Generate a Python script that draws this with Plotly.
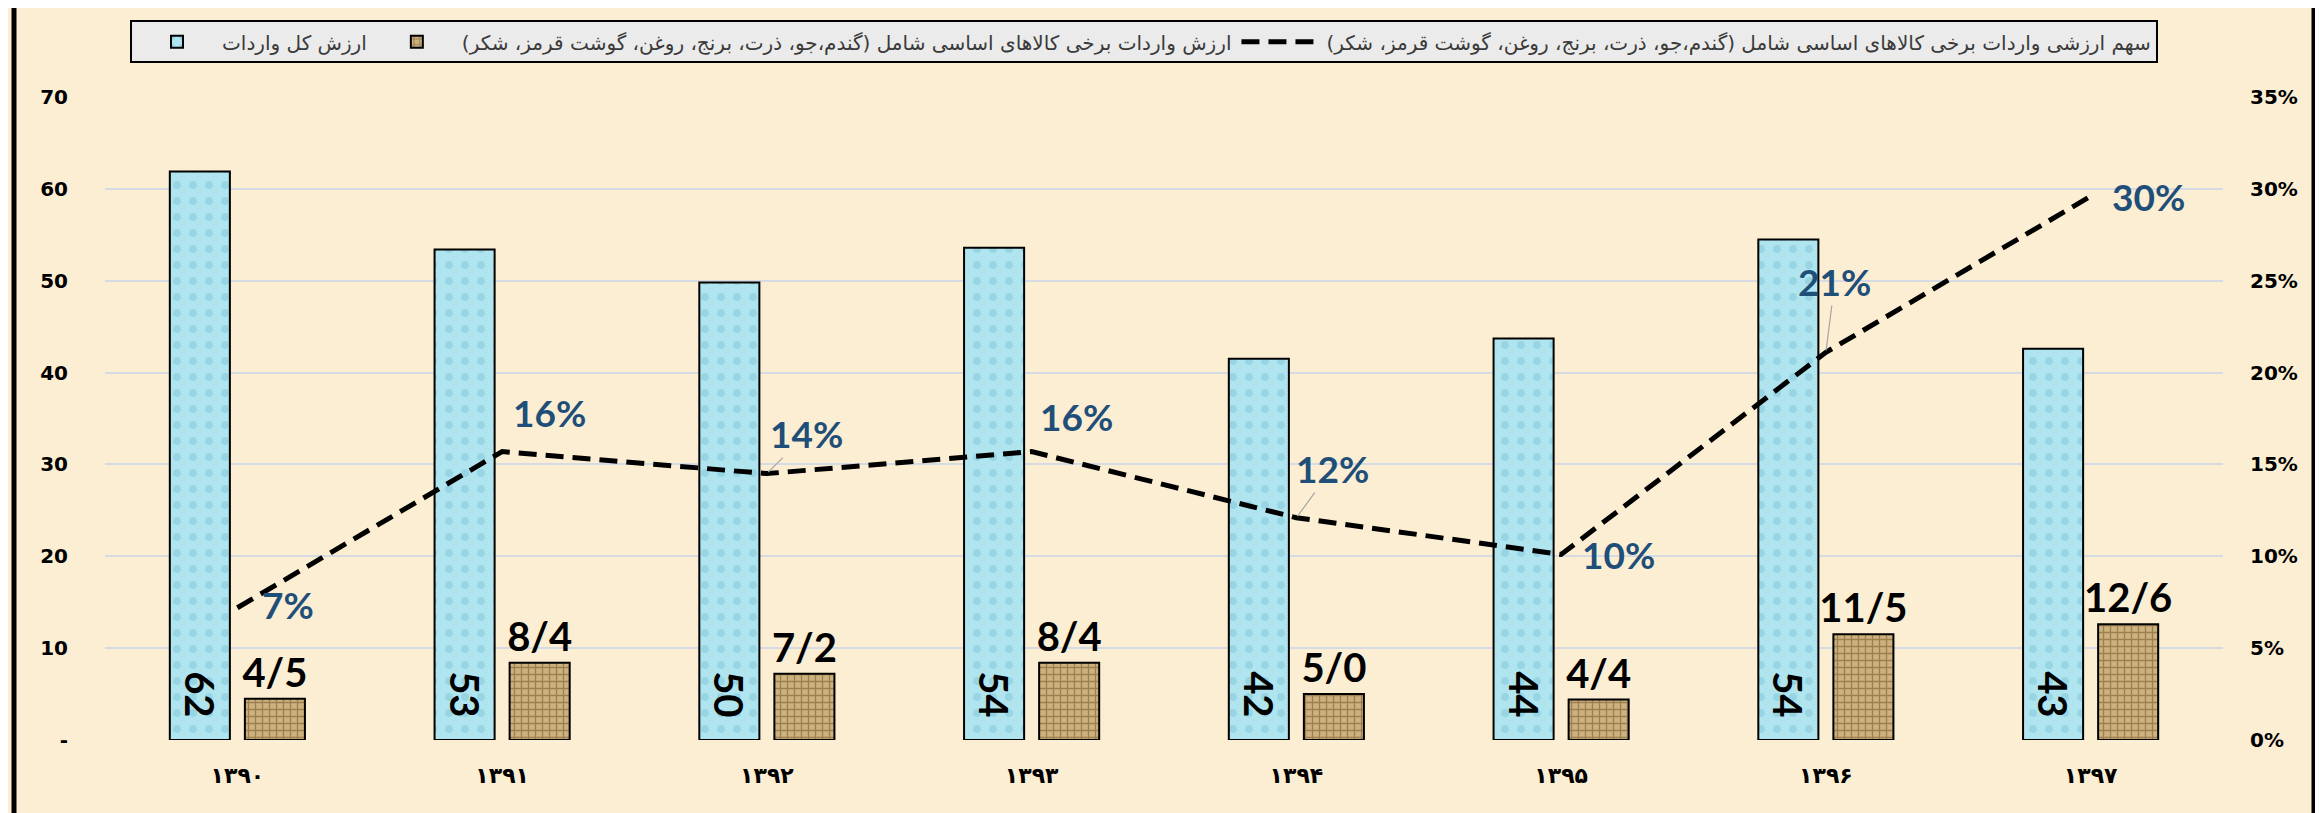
import plotly.graph_objects as go

# ---------------- data ----------------
years = ["۱۳۹۰", "۱۳۹۱", "۱۳۹۲", "۱۳۹۳", "۱۳۹۴", "۱۳۹۵", "۱۳۹۶", "۱۳۹۷"]
total_imports = [61.9, 53.4, 49.8, 53.6, 41.5, 43.7, 54.5, 42.6]
basic_goods_imports = [4.5, 8.4, 7.2, 8.4, 5.0, 4.4, 11.5, 12.6]
basic_goods_share = [0.072, 0.157, 0.145, 0.157, 0.121, 0.101, 0.211, 0.296]

left_tickvals = [0, 10, 20, 30, 40, 50, 60, 70]
left_ticktext = ["-", "10", "20", "30", "40", "50", "60", "70"]
right_tickvals = [0, 0.05, 0.10, 0.15, 0.20, 0.25, 0.30, 0.35]
right_ticktext = ["0%", "5%", "10%", "15%", "20%", "25%", "30%", "35%"]

name_total = "ارزش کل واردات"
name_basic = "ارزش واردات برخی کالاهای اساسی شامل (گندم،جو، ذرت، برنج، روغن، گوشت قرمز، شکر)"
name_share = "سهم ارزشی واردات برخی کالاهای اساسی شامل (گندم،جو، ذرت، برنج، روغن، گوشت قرمز، شکر)"

# label offsets (pixels) for the share labels, and whether a leader line is drawn
label_offsets = [(51, -3), (47, -39), (40, -40), (45, -35), (36, -49), (57, 0), (9, -71), (58, 0)]
label_leaders = [False, False, True, False, True, False, True, False]

# ---------------- layout geometry ----------------
W, H = 2323, 813
ML, MR, MT, MB = 97, 108, 86, 81
PW, PH = W - ML - MR, H - MT - MB


def px_x(p):
    return (p - ML) / PW


def px_y(p):
    return (H - MB - p) / PH


BG = "#FBEED3"
LABEL_BLUE = "#1F4E79"
NB = "\u00a0"

total_text = [f"{round(v)}{NB}{NB}" for v in total_imports]
basic_text = [f"{v:.1f}".replace(".", "/") for v in basic_goods_imports]

fig = go.Figure()

fig.add_trace(go.Bar(
    x=years, y=total_imports, name=name_total,
    marker=dict(
        color="#A8E1EE",
        line=dict(color="black", width=2),
        pattern=dict(shape=".", fgcolor="#80C5D8", bgcolor="#B0E5F0", size=16, solidity=0.2),
    ),
    text=total_text, textposition="inside", insidetextanchor="start",
    textangle=90, constraintext="none",
    insidetextfont=dict(family="Lato", size=40, color="black", weight="bold"),
    hoverinfo="skip",
))

fig.add_trace(go.Bar(
    x=years, y=basic_goods_imports, name=name_basic,
    marker=dict(
        color="#C4A46E",
        line=dict(color="black", width=2),
        pattern=dict(shape="+", fgcolor="#6B4E22", bgcolor="#CDB27F", size=7, solidity=0.35),
    ),
    text=basic_text, textposition="outside", constraintext="none",
    outsidetextfont=dict(family="Lato", size=40, color="black", weight="bold"),
    cliponaxis=False,
    hoverinfo="skip",
))

fig.add_trace(go.Scatter(
    x=years, y=basic_goods_share, name=name_share, yaxis="y2",
    mode="lines",
    line=dict(color="black", width=5, dash="18px,9px"),
    hoverinfo="skip",
))

annotations = []
for yr, s, (ax, ay), lead in zip(years, basic_goods_share, label_offsets, label_leaders):
    annotations.append(dict(
        x=yr, y=s, xref="x", yref="y2",
        text=f"{round(s * 100)}%",
        showarrow=True, ax=ax, ay=ay, arrowhead=0, arrowwidth=1.2,
        arrowcolor="#A6A6A6" if lead else "rgba(0,0,0,0)",
        standoff=2,
        font=dict(family="Lato", size=37, color=LABEL_BLUE, weight="bold"),
    ))

shapes = [
    # outer frame
    dict(type="line", xref="paper", yref="paper",
         x0=px_x(6), x1=px_x(6), y0=px_y(-20), y1=px_y(811),
         line=dict(color="black", width=5)),
    dict(type="line", xref="paper", yref="paper",
         x0=px_x(2306), x1=px_x(2306), y0=px_y(-20), y1=px_y(811),
         line=dict(color="black", width=5)),
    dict(type="line", xref="paper", yref="paper",
         x0=px_x(6), x1=px_x(2306), y0=px_y(811), y1=px_y(811),
         line=dict(color="#333333", width=3)),
]

fig.update_layout(
    width=W, height=H,
    margin=dict(l=ML, r=MR, t=MT, b=MB),
    paper_bgcolor=BG, plot_bgcolor="rgba(0,0,0,0)",
    barmode="group", bargap=0.433, bargroupgap=0.2,
    showlegend=True,
    legend=dict(
        orientation="h", x=px_x(122), y=px_y(9), xanchor="left", yanchor="top",
        bgcolor="#EBEBEB", bordercolor="black", borderwidth=2,
        font=dict(family="DejaVu Sans", size=20, color="#3A3A3A"),
        itemwidth=80, traceorder="normal",
    ),
    xaxis=dict(
        type="category", showgrid=False, zeroline=False, showline=False,
        ticks="", ticklabelstandoff=20,
        tickfont=dict(family="DejaVu Sans", size=22, color="black", weight="bold"),
    ),
    yaxis=dict(
        range=[0, 70], tickvals=left_tickvals, ticktext=left_ticktext,
        showgrid=True, gridcolor="#D6DAE2", gridwidth=2, zeroline=False,
        showline=False, ticks="", ticklabelstandoff=36,
        tickfont=dict(family="DejaVu Sans", size=20, color="black", weight="bold"),
    ),
    yaxis2=dict(
        range=[0, 0.35], tickvals=right_tickvals, ticktext=right_ticktext,
        overlaying="y", side="right", showgrid=False, zeroline=False,
        showline=False, ticks="", ticklabelstandoff=26,
        tickfont=dict(family="DejaVu Sans", size=20, color="black", weight="bold"),
    ),
    annotations=annotations,
    shapes=shapes,
)

fig.write_html("out.html")
